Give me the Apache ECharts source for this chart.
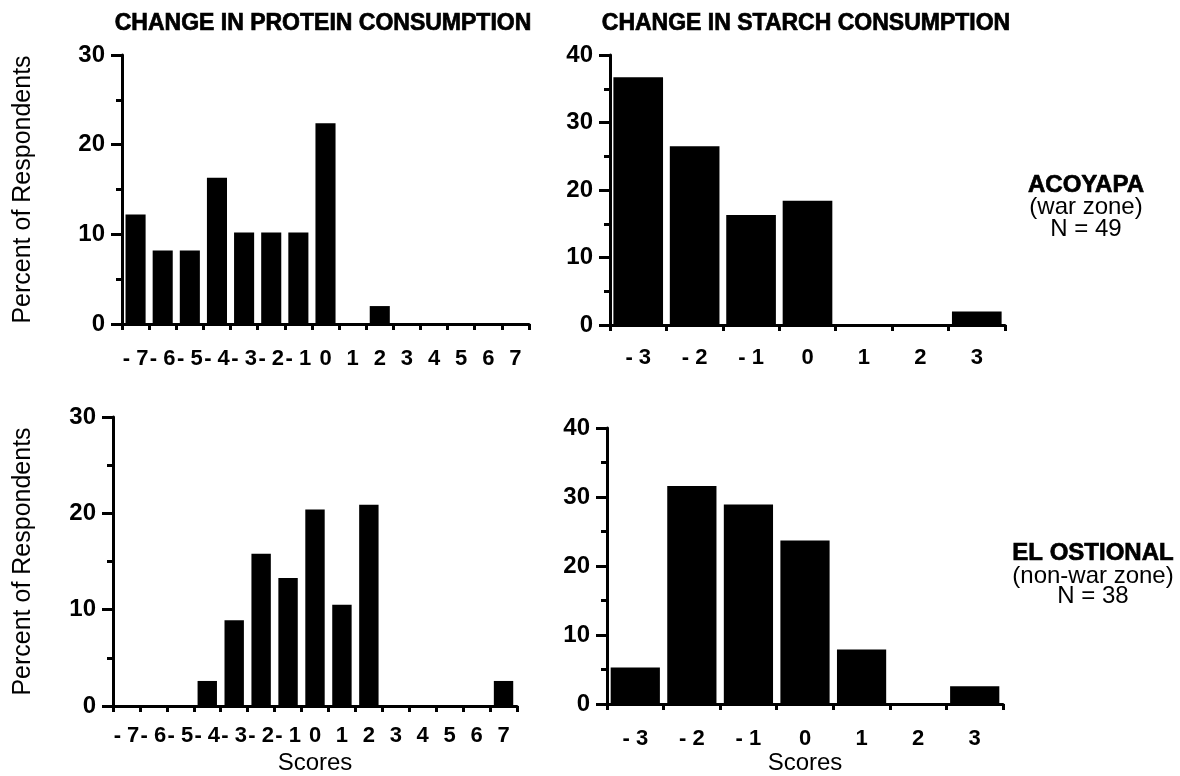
<!DOCTYPE html>
<html>
<head>
<meta charset="utf-8">
<script src="https://cdn.jsdelivr.net/npm/echarts@6/dist/echarts.min.js"></script>
<style>
html,body{margin:0;padding:0;background:#fff;overflow:hidden;}
#chart{width:1180px;height:776px;}
</style>
</head>
<body>
<div id="chart"></div>
<script>
// ---- data ----
const proteinScores = ['-7','-6','-5','-4','-3','-2','-1','0','1','2','3','4','5','6','7'];
const starchScores = ['-3','-2','-1','0','1','2','3'];
const proteinAcoyapa = [12.2, 8.2, 8.2, 16.3, 10.2, 10.2, 10.2, 22.4, 0, 2.0, 0, 0, 0, 0, 0];
const starchAcoyapa = [36.7, 26.5, 16.3, 18.4, 0, 0, 2.0];
const proteinOstional = [0, 0, 0, 2.6, 8.9, 15.8, 13.3, 20.4, 10.5, 20.9, 0, 0, 0, 0, 2.6];
const starchOstional = [5.3, 31.6, 28.9, 23.7, 7.9, 0, 2.6];
const proteinMax = 30;
const starchMax = 40;
const tickStep = 10;
const titles = ['CHANGE IN PROTEIN CONSUMPTION', 'CHANGE IN STARCH CONSUMPTION'];
const siteAcoyapa = ['ACOYAPA', '(war zone)', 'N = 49'];
const siteOstional = ['EL OSTIONAL', '(non-war zone)', 'N = 38'];
const yName = 'Percent of Respondents';
const xName = 'Scores';

const FONT = '"Liberation Sans", Arial, Helvetica, sans-serif';
const chart = echarts.init(document.getElementById('chart'), null, {renderer: 'canvas'});

const grids = [
  {left: 122, top: 55, width: 407, height: 269},
  {left: 610, top: 55, width: 395, height: 270},
  {left: 113, top: 417, width: 404, height: 293},
  {left: 607, top: 428, width: 396, height: 291}
];

function fmtScore(v) { return v.charAt(0) === '-' ? '- ' + v.slice(1) : v; }

function xAxis(gi, cats, margin, nameGap) {
  return {
    type: 'category', gridIndex: gi, data: cats,
    boundaryGap: true,
    axisLine: {show: true, lineStyle: {color: '#000', width: 3}},
    axisTick: {show: true, alignWithLabel: false, length: 6, lineStyle: {color: '#000', width: 3}},
    axisLabel: {show: true, interval: 0, margin: margin, color: '#000', fontSize: 22, fontWeight: 'bold', fontFamily: FONT, formatter: fmtScore},
    splitLine: {show: false},
    name: nameGap ? xName : '',
    nameLocation: 'middle', nameGap: nameGap || 0,
    nameTextStyle: {color: '#000', fontSize: 24, fontFamily: FONT}
  };
}
function yAxis(gi, max, nameGap) {
  return {
    type: 'value', gridIndex: gi, min: 0, max: max, interval: tickStep,
    axisLine: {show: true, lineStyle: {color: '#000', width: 3}},
    axisTick: {show: true, length: 11, lineStyle: {color: '#000', width: 3}},
    minorTick: {show: true, splitNumber: 2, length: 6, lineStyle: {color: '#000', width: 3}},
    axisLabel: {margin: 17, color: '#000', fontSize: 24, fontWeight: 'bold', fontFamily: FONT},
    splitLine: {show: false},
    minorSplitLine: {show: false},
    name: nameGap ? yName : '',
    nameLocation: 'middle', nameRotate: 90, nameGap: nameGap || 0,
    nameTextStyle: {color: '#000', fontSize: 25, fontFamily: FONT}
  };
}
function bar(i, data, gap) {
  return {
    type: 'bar', xAxisIndex: i, yAxisIndex: i, data: data,
    barCategoryGap: gap, itemStyle: {color: '#000'}, silent: true, animation: false
  };
}
function label(x, y, s, font, heavy) {
  return {
    type: 'text', x: x, y: y,
    style: {text: s, fill: '#000', font: font, textAlign: 'center', textVerticalAlign: 'middle',
            stroke: heavy ? '#000' : null, lineWidth: heavy ? 0.7 : 0}
  };
}
function sideLabel(cx, ys, lines) {
  return lines.map((s, i) => label(cx, ys[i], s, (i === 0 ? 'bold ' : '') + '24px ' + FONT, i === 0));
}

const option = {
  backgroundColor: '#fff',
  animation: false,
  grid: grids,
  xAxis: [
    xAxis(0, proteinScores, 24, 0),
    xAxis(1, starchScores, 22, 0),
    xAxis(2, proteinScores, 19, 45),
    xAxis(3, starchScores, 24, 46)
  ],
  yAxis: [
    yAxis(0, proteinMax, 86),
    yAxis(1, starchMax, 0),
    yAxis(2, proteinMax, 77),
    yAxis(3, starchMax, 0)
  ],
  series: [
    bar(0, proteinAcoyapa, '26%'),
    bar(1, starchAcoyapa, '12%'),
    bar(2, proteinOstional, '28%'),
    bar(3, starchOstional, '13%')
  ],
  graphic: [
    label(323, 24, titles[0], 'bold 23px ' + FONT, true),
    label(806, 24, titles[1], 'bold 23px ' + FONT, true)
  ].concat(sideLabel(1086, [185, 207, 229], siteAcoyapa))
   .concat(sideLabel(1093, [553, 576, 596], siteOstional))
};
chart.setOption(option);
</script>
</body>
</html>
